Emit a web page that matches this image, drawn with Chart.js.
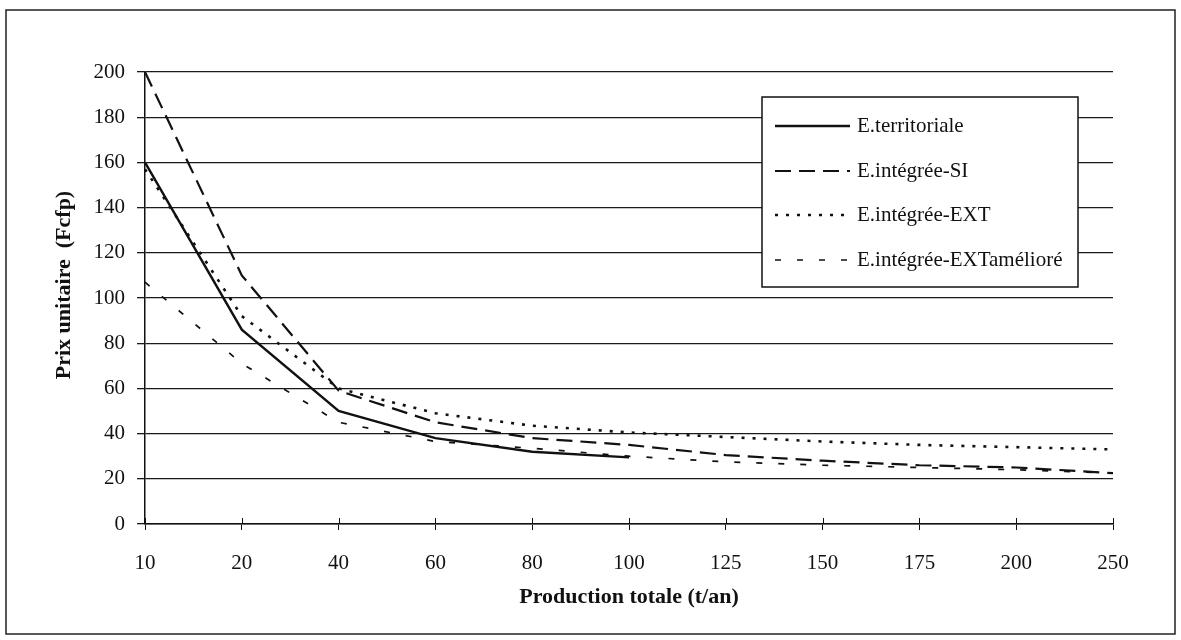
<!DOCTYPE html>
<html>
<head>
<meta charset="utf-8">
<script src="https://cdn.jsdelivr.net/npm/chart.js@4.4.1/dist/chart.umd.min.js"></script>
<style>
  html, body { margin: 0; padding: 0; background: #fff; }
  canvas { display: block; }
</style>
</head>
<body>
<canvas id="c" width="1181" height="640"></canvas>
<script>
// ---- data ----
const categories = ['10', '20', '40', '60', '80', '100', '125', '150', '175', '200', '250'];
const territoriale = [160, 86, 50, 38, 32, 29.5, null, null, null, null, null];
const integreeSI = [200, 110, 59, 45, 38, 35, 30.5, 28, 26, 25, 22.5];
const integreeEXT = [157, 92, 60, 49, 43.5, 40.5, 38.5, 36.5, 35, 34, 33];
const integreeEXTameliore = [107, 71, 45, 36.5, 33.5, 30, 27.5, 26, 25, 24, 22.5];
const seriesLabels = ['E.territoriale', 'E.intégrée-SI', 'E.intégrée-EXT', 'E.intégrée-EXTamélioré'];
const yTitle = 'Prix unitaire  (Fcfp)';
const xTitle = 'Production totale (t/an)';

const serif = "'Liberation Serif', 'Times New Roman', serif";

const frame = {
  id: 'frame',
  beforeDraw(chart) {
    const ctx = chart.ctx;
    ctx.save();
    ctx.fillStyle = '#fff';
    ctx.fillRect(0, 0, chart.width, chart.height);
    ctx.strokeStyle = '#222';
    ctx.lineWidth = 1.5;
    ctx.strokeRect(6, 10, 1169, 624);
    ctx.restore();
  }
};

const extras = {
  id: 'extras',
  afterDraw(chart) {
    const ctx = chart.ctx;
    const xs = chart.scales.x;
    const y0 = chart.chartArea.bottom;
    ctx.save();
    ctx.strokeStyle = '#111';
    ctx.lineWidth = 1;
    xs.ticks.forEach((t, i) => {
      const px = Math.round(xs.getPixelForTick(i)) + 0.5;
      ctx.beginPath();
      ctx.moveTo(px, y0 - 6);
      ctx.lineTo(px, y0);
      ctx.stroke();
    });
    // y axis title
    ctx.translate(64, 285);
    ctx.rotate(-Math.PI / 2);
    ctx.fillStyle = '#111';
    ctx.font = "bold 22px " + serif;
    ctx.textAlign = 'center';
    ctx.textBaseline = 'middle';
    ctx.fillText(yTitle, 0, 0);
    ctx.restore();
  }
};

const boxLegend = {
  id: 'boxLegend',
  afterDatasetsDraw(chart) {
    const ctx = chart.ctx;
    const L = 762, T = 97, R = 1078, B = 287;
    ctx.save();
    ctx.fillStyle = '#fff';
    ctx.fillRect(L, T, R - L, B - T);
    ctx.strokeStyle = '#111';
    ctx.lineWidth = 1.5;
    ctx.strokeRect(L, T, R - L, B - T);
    const rows = [126, 171, 215, 260];
    chart.data.datasets.forEach((ds, i) => {
      const y = rows[i];
      ctx.beginPath();
      ctx.setLineDash(ds.borderDash || []);
      ctx.lineWidth = ds.borderWidth;
      ctx.strokeStyle = ds.borderColor;
      ctx.moveTo(775, y);
      ctx.lineTo(850, y);
      ctx.stroke();
      ctx.setLineDash([]);
      ctx.fillStyle = '#111';
      ctx.font = "21px " + serif;
      ctx.textBaseline = 'middle';
      ctx.textAlign = 'left';
      ctx.fillText(ds.label, 857, y);
    });
    ctx.restore();
  }
};

new Chart(document.getElementById('c'), {
  type: 'line',
  data: {
    labels: categories,
    datasets: [
      { label: seriesLabels[0], data: territoriale, borderColor: '#111', borderWidth: 2.4, borderDash: [], pointRadius: 0, tension: 0, spanGaps: false },
      { label: seriesLabels[1], data: integreeSI, borderColor: '#111', borderWidth: 2.2, borderDash: [16, 8], pointRadius: 0, tension: 0 },
      { label: seriesLabels[2], data: integreeEXT, borderColor: '#111', borderWidth: 2.6, borderDash: [3, 8], pointRadius: 0, tension: 0 },
      { label: seriesLabels[3], data: integreeEXTameliore, borderColor: '#111', borderWidth: 1.7, borderDash: [6, 16], pointRadius: 0, tension: 0 }
    ]
  },
  options: {
    responsive: false,
    animation: false,
    devicePixelRatio: 1,
    layout: { padding: { left: 0, right: 68, top: 72, bottom: 0 } },
    plugins: { legend: { display: false }, tooltip: { enabled: false } },
    scales: {
      x: {
        type: 'category',
        offset: false,
        grid: { display: true, drawOnChartArea: false, drawTicks: true, tickLength: 6, color: '#111', lineWidth: 1 },
        border: { display: true, color: '#111', width: 1.5 },
        ticks: { color: '#111', font: { family: serif, size: 21 }, padding: 21, maxRotation: 0, autoSkip: false },
        title: { display: true, text: xTitle, color: '#111', font: { family: serif, size: 22, weight: 'bold' }, padding: { top: 0, bottom: 29 } },
        afterFit(s) { s.height = 116; }
      },
      y: {
        min: 0, max: 200,
        ticks: { stepSize: 20, color: '#111', font: { family: serif, size: 21 }, padding: 12 },
        grid: { color: '#1a1a1a', lineWidth: 1.3, tickLength: 8 },
        border: { display: true, color: '#111', width: 1.5 },
        title: { display: false },
        afterFit(s) { s.width = 145; }
      }
    }
  },
  plugins: [frame, extras, boxLegend]
});
</script>
</body>
</html>
